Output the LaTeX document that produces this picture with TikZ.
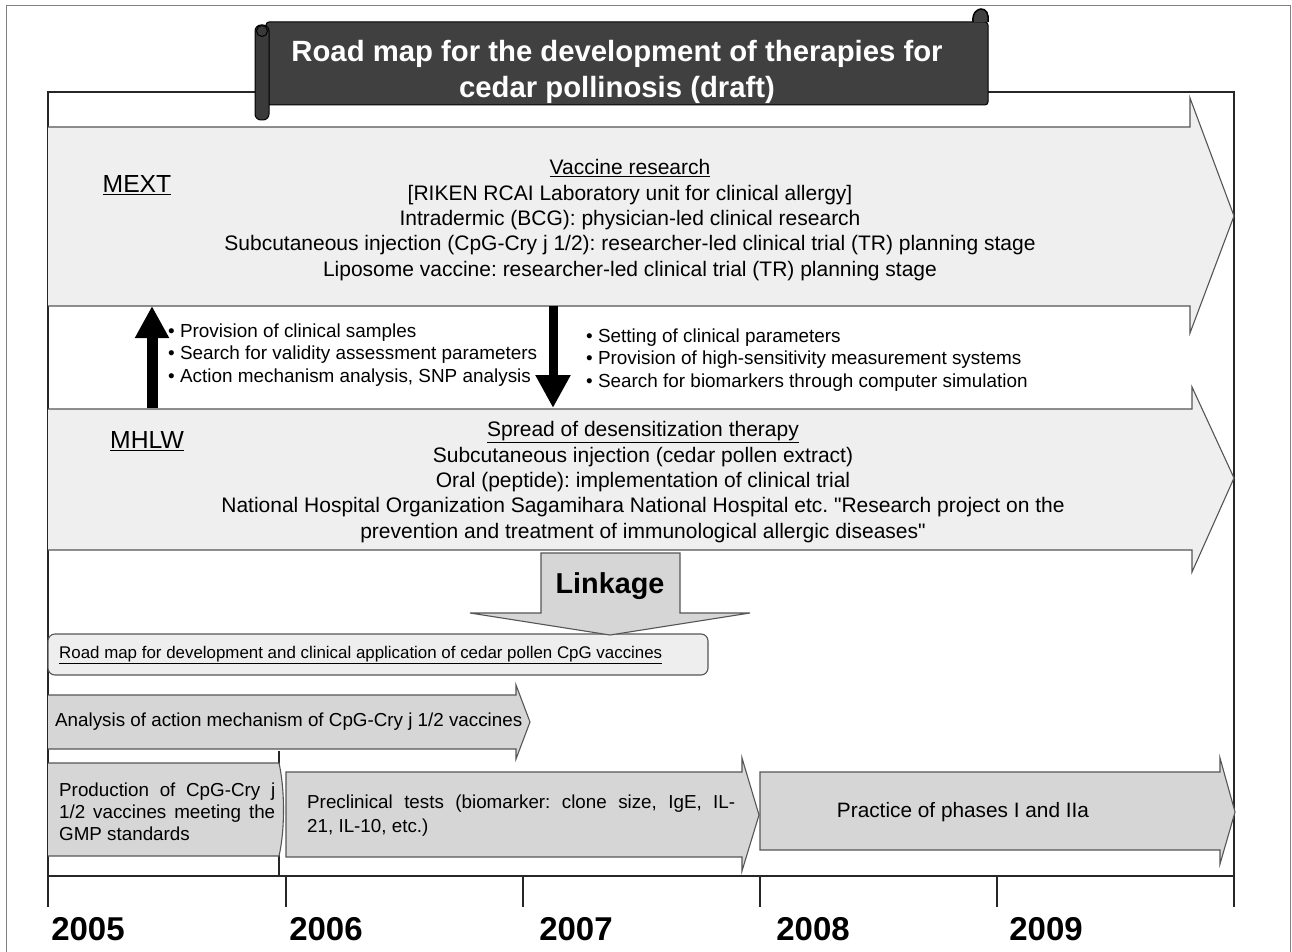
\documentclass[tikz,border=0pt]{standalone}
\usepackage{fontspec}
\setmainfont{Liberation Sans}
\usetikzlibrary{arrows.meta}
\frenchspacing

\definecolor{bandfill}{HTML}{EFEFEF}
\definecolor{barfill}{HTML}{D6D6D6}
\definecolor{boxfill}{HTML}{EEEEEE}
\definecolor{bannerfill}{HTML}{404040}
\definecolor{edgegray}{HTML}{555555}

\newcommand{\fsz}[2]{\fontsize{#1}{#2}\selectfont}

\tikzset{
  band/.style={fill=bandfill, draw=edgegray, line width=1.1pt},
  bar/.style={fill=barfill, draw=edgegray, line width=1.1pt},
  rule/.style={draw=black!85, line width=1.1pt},
  txt/.style={inner sep=0pt, text=black},
  bigtxt/.style={txt, align=center, font=\fsz{21}{25.3}},
  bullets/.style={txt, align=left, font=\fsz{18.9}{22.8}},
  bartxt/.style={txt, align=left, font=\fsz{18.8}{22}},
  yeartxt/.style={txt, font=\bfseries\fsz{33}{35}},
  flow/.style={line cap=butt},
}

\begin{document}
\frenchspacing
\begin{tikzpicture}[x=1pt, y=-1pt]
\useasboundingbox (0,0) rectangle (1292,952);

% outer border
\draw[gray, line width=1pt] (6,952) -- (6,6) -- (1290,6) -- (1290,952);

% inner frame
\draw[rule] (48,907) -- (48,92) -- (1234,92) -- (1234,907);

% MEXT band
\path[band] (48,306) -- (1190,306) -- (1190,333) -- (1234,216) -- (1190,98) -- (1190,127) -- (48,127);
% MHLW band
\path[band] (48,550) -- (1192,550) -- (1192,572) -- (1234,478) -- (1192,387) -- (1192,409) -- (48,409);

% title scroll
\draw[black, fill=bannerfill, line width=1pt, rounded corners=3pt] (266,22) -- (988,22) -- (988,105) -- (266,105) -- cycle;
\draw[black, fill=bannerfill!90!black, line width=1pt, rounded corners=6pt] (255,25) rectangle (269,120);
\draw[black, line width=1pt] (262,31) circle (5.5);
\draw[black, fill=bannerfill, line width=1.5pt] (973,22) .. controls (972,12) and (978,9) .. (981,9) .. controls (986,9) and (989,13) .. (988,22);
\node[txt, text=white, align=center, font=\bfseries\fsz{29.3}{36}] (title) at (617,72)
  {Road map for the development of therapies for\\cedar pollinosis (draft)};

% band texts
\node[txt, font=\fsz{24.7}{26}] (mext) at (137,185) {\underline{MEXT}};
\node[txt, font=\fsz{24.7}{26}] (mhlw) at (147,441) {\underline{MHLW}};

\node[bigtxt] (vaccine) at (630,220) {\underline{Vaccine research}\\
  {[}RIKEN RCAI Laboratory unit for clinical allergy{]}\\
  Intradermic (BCG): physician-led clinical research\\
  Subcutaneous injection (CpG-Cry j 1/2): researcher-led clinical trial (TR) planning stage\\
  Liposome vaccine: researcher-led clinical trial (TR) planning stage};

\node[bigtxt] (spread) at (643,482) {\underline{Spread of desensitization therapy}\\
  Subcutaneous injection (cedar pollen extract)\\
  Oral (peptide): implementation of clinical trial\\
  National Hospital Organization Sagamihara National Hospital etc. \textquotedbl Research project on the\\
  prevention and treatment of immunological allergic diseases\textquotedbl};

% exchange between the two ministries
\coordinate (upfoot) at (152,408);
\coordinate (uptip) at (152,306);
\coordinate (downtop) at (553,306);
\coordinate (downtip) at (553,408);
\draw[flow, line width=11pt, -{Triangle[width=32pt,length=32pt]}] (upfoot) -- (uptip);
\draw[flow, line width=9pt, -{Triangle[width=33pt,length=33pt]}] (downtop) -- (downtip);

\node[bullets, anchor=west] (upitems) at (168,355) {%
  • Provision of clinical samples\\
  • Search for validity assessment parameters\\
  • Action mechanism analysis, SNP analysis};
\node[bullets, anchor=west] (downitems) at (586,360) {%
  • Setting of clinical parameters\\
  • Provision of high-sensitivity measurement systems\\
  • Search for biomarkers through computer simulation};

% roadmap box and linkage arrow
\draw[edgegray, fill=boxfill, line width=1.1pt, rounded corners=7pt] (48,634) rectangle (708,675);
\node[txt, anchor=west, font=\fsz{16.9}{19}] (roadmap) at (59,655)
  {\underline{Road map for development and clinical application of cedar pollen CpG vaccines}};
\path[bar] (541,553) -- (680,553) -- (680,613) -- (750,613) -- (610,635) -- (470,613) -- (541,613) -- cycle;
\node[txt, font=\bfseries\fsz{28.8}{30}] (linkage) at (610,586) {Linkage};

% schedule bars
\path[bar] (48,749) -- (516,749) -- (516,759) -- (530,722) -- (516,685) -- (516,695) -- (48,695);
\node[bartxt, anchor=west] (analysis) at (55,722) {Analysis of action mechanism of CpG-Cry j 1/2 vaccines};

\draw[rule] (279,751) -- (279,876);
\path[bar] (48,856) -- (279,856) .. controls (285,830) and (285,790) .. (279,763) -- (48,763);
\node[bartxt, anchor=west] (production) at (59,812) {%
  \makebox[216pt][s]{Production of CpG-Cry j}\\
  \makebox[216pt][s]{1/2 vaccines meeting the}\\
  GMP standards};

\path[bar] (286,772) -- (742,772) -- (742,758) -- (759,815) -- (742,871) -- (742,857) -- (286,857) -- cycle;
\node[txt, anchor=west, align=left, font=\fsz{18.8}{24}] (preclinical) at (307,816) {%
  \makebox[428pt][s]{Preclinical tests (biomarker: clone size, IgE, IL-}\\
  21, IL-10, etc.)};

\path[bar] (760,772) -- (1220,772) -- (1220,758) -- (1235,812) -- (1220,864) -- (1220,850) -- (760,850) -- cycle;
\node[txt, font=\fsz{20.8}{22}] (practice) at (963,812) {Practice of phases I and IIa};

% time axis
\draw[rule] (48,876) -- (1234,876);
\foreach \tx in {286,523,760,997} \draw[rule] (\tx,876) -- (\tx,907);
\node[yeartxt] (y2005) at (88,929) {2005};
\node[yeartxt] (y2006) at (326,929) {2006};
\node[yeartxt] (y2007) at (576,929) {2007};
\node[yeartxt] (y2008) at (813,929) {2008};
\node[yeartxt] (y2009) at (1046,929) {2009};
\end{tikzpicture}
\end{document}
